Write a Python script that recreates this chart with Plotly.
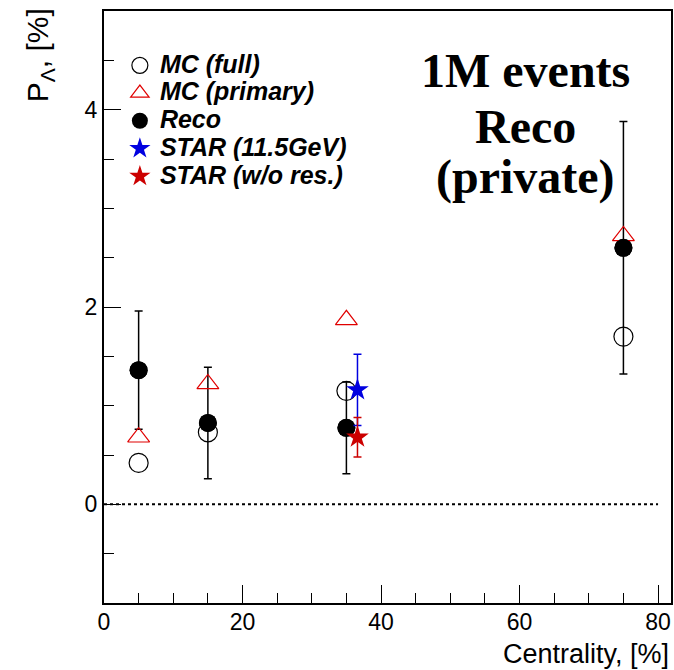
import plotly.graph_objects as go

# ---- data ----
centrality = [5, 15, 35, 75]
mc_full = [0.42, 0.73, 1.15, 1.70]
mc_primary = [0.68, 1.22, 1.87, 2.72]
reco = [1.36, 0.825, 0.775, 2.60]
reco_err = [0.60, 0.565, 0.465, 1.28]
star_x = [36.6]
star_115 = [1.16]
star_115_err = [0.36]
star_nores = [0.68]
star_nores_err = [0.20]
zero_line_x = [0, 80]

x_ticks = [0, 20, 40, 60, 80]
y_ticks = [0, 2, 4]

RED = "#e00000"
BLUE = "#0000e0"

def lbl(t):
    return f'<span style="font-size:25px">{t}</span>'

fig = go.Figure()

fig.add_trace(go.Scatter(
    x=centrality, y=reco, mode="markers", name=lbl("Reco"),
    marker=dict(symbol="circle", size=18, color="black"),
    error_y=dict(type="data", array=reco_err, color="black", thickness=1.5, width=4),
    showlegend=False,
))
fig.add_trace(go.Scatter(
    x=centrality, y=mc_full, mode="markers", name=lbl("MC (full)"),
    marker=dict(symbol="circle-open", size=19, color="black", line=dict(width=1.2, color="black")),
))
fig.add_trace(go.Scatter(
    x=centrality, y=mc_primary, mode="markers", name=lbl("MC (primary)"),
    marker=dict(symbol="triangle-up-open", size=19, color=RED, line=dict(width=1.2, color=RED)),
))
# legend entry for Reco (same data, placed in legend order)
fig.add_trace(go.Scatter(
    x=centrality, y=reco, mode="markers", name=lbl("Reco"),
    marker=dict(symbol="circle", size=18, color="black"),
))
fig.add_trace(go.Scatter(
    x=star_x, y=star_115, mode="markers", name=lbl("STAR (11.5GeV)"),
    marker=dict(symbol="star", size=17, color=BLUE),
    error_y=dict(type="data", array=star_115_err, color=BLUE, thickness=1.5, width=4),
))
fig.add_trace(go.Scatter(
    x=star_x, y=star_nores, mode="markers", name=lbl("STAR (w/o res.)"),
    marker=dict(symbol="star", size=17, color="#cc0000"),
    error_y=dict(type="data", array=star_nores_err, color="#cc0000", thickness=1.5, width=4),
))

fig.add_shape(type="line", xref="x", yref="y",
              x0=zero_line_x[0], x1=zero_line_x[1], y0=0, y1=0,
              line=dict(color="black", width=2, dash="dot"), layer="below")

tickfont = dict(family="Liberation Sans, Arial, sans-serif", size=23, color="black")

fig.update_layout(
    width=674, height=670,
    margin=dict(l=104, r=1, t=11, b=67),
    paper_bgcolor="white", plot_bgcolor="white",
    showlegend=True,
    legend=dict(
        x=0.028, y=0.94, xanchor="left", yanchor="top",
        bgcolor="rgba(0,0,0,0)", borderwidth=0,
        font=dict(family="Liberation Sans, Arial, sans-serif", size=19, color="black",
                  weight="bold", style="italic"),
    ),
    xaxis=dict(
        range=[0, 81.87], tickvals=x_ticks, ticks="inside", ticklen=18, tickwidth=1.2,
        tickcolor="black", showline=True, linecolor="black", linewidth=2, mirror=True,
        showgrid=False, zeroline=False, tickfont=tickfont, ticklabelstandoff=-3,
        minor=dict(dtick=5, tick0=0, ticks="inside", ticklen=10, tickcolor="black", tickwidth=1.2, showgrid=False),
    ),
    yaxis=dict(
        range=[-1, 5], tickvals=y_ticks, ticks="inside", ticklen=17, tickwidth=1.2,
        tickcolor="black", showline=True, linecolor="black", linewidth=2, mirror=True,
        showgrid=False, zeroline=False, tickfont=tickfont,
        minor=dict(dtick=0.5, tick0=0, ticks="inside", ticklen=10, tickcolor="black", tickwidth=1.2, showgrid=False),
    ),
)

W = 569.0
H = 592.0
def px_x(p):
    return (p - 104) / W
def px_y(p):
    return (603 - p) / H

# axis titles
fig.add_annotation(text="Centrality, [%]", xref="paper", yref="paper",
                   x=px_x(673), y=px_y(671), xanchor="right", yanchor="bottom",
                   showarrow=False,
                   font=dict(family="Liberation Sans, Arial, sans-serif", size=27, color="black"))
fig.add_annotation(text="P<sub>Λ</sub>, [%]", xref="paper", yref="paper",
                   x=px_x(40), y=px_y(6), xanchor="center", yanchor="top",
                   textangle=-90, showarrow=False,
                   font=dict(family="Liberation Sans, Arial, sans-serif", size=30, color="black"))

# big text
serif = dict(family="Liberation Serif, Times New Roman, serif", size=48, color="black", weight="bold")
for txt, py in [("1M events", 70), ("Reco", 126), ("(private)", 177)]:
    fig.add_annotation(text=txt, xref="paper", yref="paper", x=px_x(527), y=px_y(py),
                       xanchor="center", yanchor="middle", showarrow=False, font=serif)

fig.write_html("out.html")
